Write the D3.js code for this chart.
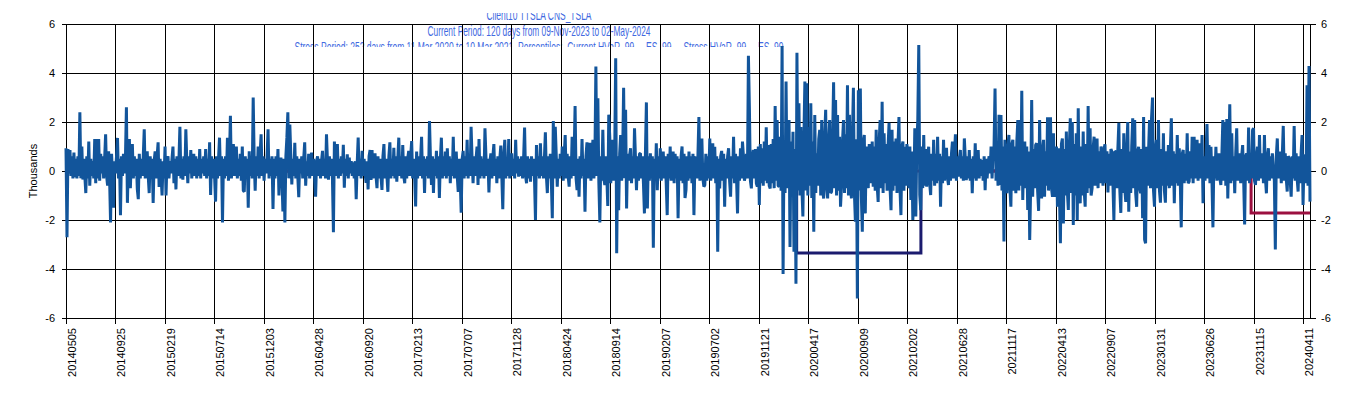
<!DOCTYPE html>
<html><head><meta charset="utf-8">
<script src="https://cdn.jsdelivr.net/npm/d3@7"></script>
<style>body{margin:0;background:#fff}svg{display:block}</style>
</head><body><svg id="c" width="1353" height="398"></svg>
<script>
const titleLines = [
  "Client10 TTSLA CNS_TSLA",
  "Current Period: 120 days from 09-Nov-2023 to 02-May-2024",
  "Stress Period: 252 days from 11 Mar 2020 to 10 Mar 2021. Percentiles:  Current HVaR  99  ,  ES  99  ,  Stress HVaR  99  ,  ES  99"
];
const yAxisTitle = "Thousands";
const tickLabels = ["20140505","20140925","20150219","20150714","20151203","20160428","20160920","20170213","20170707","20171128",
  "20180424","20180914","20190207","20190702","20191121","20200417","20200909","20210202","20210628","20211117",
  "20220413","20220907","20230131","20230626","20231115","20240411"];
const tickStep = 100;          // trading days between labelled ticks
const totalDays = 2514;        // trading days 05-May-2014 .. 02-May-2024
const yTicks = [-6,-4,-2,0,2,4,6];
const stressStart = 1476, stressEnd = 1727, stressHVaR = -3.35;
const currentStart = 2394, currentHVaR = -1.71;
// daily P&L (thousands), one sample every second trading day
const pnl = [
0.93,-2.7,0.9,-0.1,0.85,-0.2,0.6,-0.3,0.75,-0.25,
0.5,-0.3,0.6,-0.2,2.4,-0.3,1.0,-0.35,0.5,-0.2,
-0.9,0.6,-0.3,1.2,-0.6,0.5,-0.2,0.4,-0.3,1.3,
-0.5,1.3,-0.3,1.3,-0.4,0.7,-0.1,0.6,-0.3,0.5,
1.5,-0.2,-0.6,0.8,-0.3,-2.1,0.7,-0.2,-1.5,0.4,
-0.1,0.6,1.35,-0.3,0.5,-1.8,0.6,-0.2,0.7,-0.1,
0.5,2.6,-1.3,0.4,1.3,-0.7,0.6,1.1,-0.3,0.6,
-0.2,0.5,-0.75,-1.15,0.7,-0.3,0.5,-0.2,0.6,1.7,
-0.3,0.4,0.8,-0.2,-0.9,0.6,-0.3,0.5,-1.3,0.4,
0.8,-0.3,0.6,1.17,-0.65,0.5,-0.2,-1.0,0.4,-0.3,
1.0,-1.0,0.5,0.6,-0.3,0.4,-0.1,0.5,1.0,-0.5,
0.5,-0.75,0.6,-0.2,0.4,1.8,-0.3,0.5,-0.35,0.6,
-0.2,1.7,0.4,-0.5,0.6,-0.1,0.85,-0.3,0.5,0.7,
-0.2,0.6,-0.3,0.5,-0.2,0.9,-0.3,0.5,-0.1,0.6,
-0.2,0.9,-0.3,0.5,-0.2,1.17,-0.98,0.6,-0.3,0.5,
-0.2,-1.25,0.6,-0.3,0.5,1.36,-0.2,0.6,-2.1,0.5,
-0.3,0.6,-0.2,1.36,-0.4,0.5,2.25,-0.3,0.6,1.1,
-0.2,0.6,1.0,-0.3,0.5,-0.2,0.7,-0.4,1.0,-0.8,
-0.85,0.6,-0.3,0.5,-1.5,0.8,-0.2,0.6,-0.3,3.0,
0.5,-0.8,0.6,-0.2,1.0,-0.3,0.7,1.5,-0.2,0.6,
-0.4,0.5,-0.1,0.6,1.7,-0.3,0.5,-0.2,0.6,-1.55,
0.5,-0.3,0.6,-0.2,0.9,-1.0,0.4,0.55,-0.3,-1.65,
0.5,-2.1,0.6,1.36,2.4,-0.3,1.9,0.6,-0.55,0.5,
-0.2,1.15,-0.3,0.6,-0.2,-1.07,0.5,-0.1,0.6,-0.3,
0.5,1.17,-0.6,0.4,-0.2,0.7,-0.3,0.5,0.75,-0.2,
0.5,-0.3,-1.05,0.4,0.6,-0.2,0.5,-0.3,0.4,0.82,
-0.2,0.5,-0.3,1.5,0.4,-0.35,0.6,-0.2,0.5,-0.3,
-2.5,1.2,-0.2,0.6,1.1,-0.3,0.5,-0.2,0.6,-0.1,
1.07,-0.68,0.5,-0.2,0.68,-0.3,0.55,-0.1,0.4,-0.2,
0.35,-0.3,0.4,-1.15,0.3,1.37,-0.2,0.5,-0.3,0.82,
-0.2,0.5,-0.1,-0.48,0.4,-0.75,0.6,0.86,-0.37,0.86,
-0.3,0.5,0.72,-0.2,-0.7,0.6,-0.3,0.5,-0.2,-0.77,
0.6,1.1,-0.3,0.5,-0.2,-0.85,0.6,1.17,-0.3,0.5,
-0.2,0.95,-0.3,0.6,-0.44,0.5,1.36,-0.2,0.6,-0.3,
1.06,-0.2,-0.5,0.6,-0.3,0.5,0.82,-0.2,0.6,1.22,
-0.3,0.5,-0.2,-1.45,0.79,-0.3,0.6,-0.2,0.5,1.4,
-0.3,0.6,-0.9,0.5,-0.2,0.6,-0.3,2.04,0.5,-0.57,
0.6,-0.9,0.5,-0.2,0.82,-0.3,0.6,-1.1,0.5,1.36,
-0.3,0.6,-0.2,0.79,-0.3,0.93,-0.2,0.6,-0.5,0.5,
-0.2,1.4,-0.3,0.6,0.79,-0.2,-0.85,0.5,-0.3,-1.7,
0.5,0.82,-0.3,0.6,-0.2,1.27,-0.3,0.5,-0.2,1.8,
0.5,-0.5,0.6,-0.2,0.5,1.0,-0.57,1.3,-0.3,0.6,
-0.2,0.5,-0.3,1.74,0.6,-0.2,0.5,-0.88,0.4,0.72,
-0.3,0.6,1.1,-0.2,0.5,-0.5,0.6,-0.3,0.5,1.04,
-0.2,-1.56,0.6,1.27,-0.3,0.5,-0.2,1.3,-0.3,0.6,
0.72,-0.2,0.5,-0.3,1.27,-0.1,0.6,-0.23,0.5,-0.2,
0.6,-0.3,0.5,1.77,-0.2,-0.5,0.6,-0.3,0.5,-0.44,
0.6,-0.2,0.5,-0.3,-2.0,1.06,-0.2,0.6,-0.3,1.13,
-0.2,0.6,-0.3,0.5,1.58,-0.2,-0.9,0.6,-0.3,0.7,
-0.4,-1.93,2.04,-0.3,1.8,0.6,-0.64,0.5,-0.3,0.7,
-0.2,1.0,-0.4,0.6,1.47,-0.3,0.7,-0.2,-0.64,0.6,
-0.3,1.4,-0.2,0.6,2.65,-0.3,-0.78,0.5,-1.05,0.6,
-0.3,1.3,-0.2,0.5,-1.66,0.6,1.17,-0.3,0.5,1.15,
-0.4,0.6,1.27,-0.3,0.5,4.26,-0.2,2.97,-0.5,-2.1,
0.6,-0.4,1.68,-0.3,-0.57,0.6,-0.2,-1.43,2.3,1.4,
-0.5,0.6,1.27,-0.4,0.7,4.6,-3.36,0.6,-1.6,0.7,
1.47,-0.4,0.6,3.4,-0.3,2.5,-1.53,0.7,-0.4,0.6,
0.93,-0.5,0.6,-0.3,1.74,0.5,-0.78,0.6,-0.4,0.7,
0.72,-0.3,0.6,-0.5,-1.73,0.7,2.8,-1.53,0.6,-0.4,
0.72,-0.3,0.6,-3.13,0.5,-0.4,1.13,-0.78,0.6,-0.3,
0.93,-0.4,0.6,0.79,-0.3,0.6,-0.5,-1.8,0.7,-0.3,
1.0,-0.4,0.6,0.79,-0.5,0.7,-0.3,0.6,-1.93,0.5,
-0.4,0.6,1.0,-0.5,0.7,-1.1,-0.77,0.6,-0.4,0.79,
-0.3,0.6,-0.5,0.7,-1.8,0.5,0.58,-0.3,0.6,2.2,
-0.4,0.6,1.33,-0.3,-0.64,-0.57,0.7,-0.4,0.6,-0.3,
1.33,-0.4,0.6,1.13,-0.3,0.99,-0.5,0.6,-3.3,0.5,
-0.71,0.6,0.82,-0.4,0.7,-1.46,0.5,-0.3,0.6,0.93,
-0.4,-1.05,0.6,-0.3,1.4,-0.5,0.7,-0.3,-1.73,0.6,
-0.4,0.93,-0.3,1.2,0.6,-0.4,-0.16,0.7,-0.3,4.7,
2.56,-0.4,-0.71,0.6,0.86,-0.3,0.9,-0.5,-0.64,1.0,
-1.39,1.1,-0.5,0.93,-0.6,1.2,-0.4,1.78,-0.5,1.06,
-0.6,-0.71,1.1,-0.5,1.3,-0.7,2.65,-0.4,2.08,-0.6,
-0.64,1.4,-0.8,5.1,-4.2,1.2,-0.9,3.65,-0.7,1.5,
2.08,-3.1,1.2,-0.8,1.6,-3.3,0.9,-4.6,4.83,-0.8,
2.76,-1.0,1.8,-0.7,-1.86,1.3,3.65,-0.8,3.58,-1.0,
1.8,-0.6,2.76,-1.1,1.2,-2.48,2.29,-0.9,0.72,-0.6,
1.3,1.68,-1.0,2.08,-0.8,-1.12,1.4,2.5,-0.7,-1.12,
1.2,2.08,-0.9,-0.84,1.3,3.62,-0.7,2.9,-1.0,2.29,
-0.8,1.4,-1.46,-0.6,1.2,2.08,-0.9,1.5,-0.7,3.5,
-1.0,2.29,-0.6,-1.12,1.4,3.4,-0.9,-2.07,1.3,-5.2,
3.3,-0.8,3.37,-1.0,-2.48,1.2,1.47,-1.73,1.0,0.72,
-0.7,1.1,0.86,-0.5,1.2,-0.64,1.0,-0.8,1.68,-0.6,
-1.26,1.2,2.08,-0.7,2.83,-0.9,1.54,-0.5,1.1,-0.8,
1.0,1.97,-0.7,-1.6,1.68,-0.8,1.2,-0.6,1.33,-0.9,
1.1,2.2,-0.7,-1.8,1.0,1.2,-0.8,0.99,-0.6,1.1,
0.72,-0.7,1.0,-1.18,0.8,-2.0,-0.9,1.74,-1.86,1.0,
2.08,5.14,-0.98,-1.6,1.0,-0.7,1.47,-0.6,0.9,-0.64,
0.6,0.99,-0.5,-0.98,0.7,-0.4,1.27,-0.6,0.7,-0.5,
1.4,-0.4,0.7,-1.46,0.6,-0.5,1.27,-0.4,0.6,0.95,
-0.3,-0.57,0.6,-0.4,0.7,1.2,-0.3,0.6,1.5,-0.4,
0.6,-0.23,0.5,0.86,-0.3,0.6,-0.4,1.33,0.5,-0.37,
0.6,-0.3,0.86,-0.4,0.5,-0.91,0.6,-0.3,1.13,-0.4,
0.6,0.86,-0.3,0.5,-0.2,0.45,-0.4,0.6,-0.78,0.5,
-0.3,0.31,0.6,-0.1,1.0,-0.3,0.7,1.0,3.37,-0.4,
1.2,-0.6,2.29,-0.57,2.29,-0.8,1.0,-2.88,1.27,-0.6,
-0.91,1.0,1.47,-0.7,-1.46,1.1,1.27,-0.8,1.0,-0.91,
1.2,2.08,-0.8,2.08,-0.6,3.27,-1.18,0.9,1.2,-0.7,
1.0,-1.59,0.8,-2.82,-0.6,2.9,-1.05,0.9,-0.7,1.06,
1.13,-0.8,-1.63,2.08,-0.7,-1.12,0.9,1.27,-1.05,0.8,
-0.6,2.19,-0.8,1.1,2.19,-0.7,-1.05,1.54,-0.8,-1.05,
1.0,-1.46,0.93,-0.9,-2.95,1.1,1.33,-2.14,0.9,-1.0,
1.61,-0.8,-1.59,1.0,2.15,-0.9,2.0,-2.2,1.1,-1.0,
1.54,-2.0,2.56,-0.9,-1.32,1.0,-1.0,1.61,-0.8,-1.46,
1.1,-0.9,2.65,-0.7,1.74,-1.0,-0.71,0.9,1.4,-0.6,
0.9,1.33,-0.7,0.8,-0.5,1.0,0.72,-0.6,0.9,1.09,
-0.5,0.8,-0.88,0.7,-0.6,0.9,0.79,-0.5,-2.0,0.8,
0.79,-0.7,0.9,1.97,-0.8,-1.71,0.9,-0.9,1.54,-0.7,
-1.26,0.9,2.0,-1.66,0.8,-0.9,1.0,2.15,-0.7,2.08,
-0.9,-1.46,0.8,0.99,-0.7,-0.91,0.9,-1.93,2.2,-2.8,
-2.95,0.99,-0.6,0.8,2.08,-0.7,2.15,3.0,-0.8,-1.46,
0.9,1.27,-0.7,2.08,-0.8,-1.29,0.9,-0.6,1.54,-0.8,
-1.29,0.8,-0.6,1.06,-0.7,0.9,2.15,-0.6,0.8,-1.32,
0.7,-0.5,1.47,-0.6,0.93,-0.4,-2.3,0.7,0.86,-0.5,
0.7,-0.4,1.54,-0.5,-0.44,0.8,-0.3,1.4,-0.5,1.4,
-0.3,0.8,1.27,-0.4,0.7,1.13,-0.3,1.47,-1.32,0.6,
-0.4,0.7,1.92,-0.3,1.06,-0.5,0.99,-0.4,-2.3,0.6,
-0.3,0.99,-0.4,0.6,0.72,-0.3,-0.57,0.6,2.08,-0.4,
2.0,-0.6,2.12,-1.12,0.7,2.72,-0.5,1.54,-0.4,0.6,
-0.91,0.7,1.74,-0.4,0.6,0.72,-0.5,0.6,1.06,-0.3,
-2.18,0.6,0.72,-0.4,1.77,-0.5,0.6,-0.3,1.67,1.74,
-0.4,-0.57,0.6,0.99,-0.4,1.47,-0.3,0.6,0.72,-0.5,
1.47,-0.3,-0.91,0.6,0.93,-0.4,0.6,-0.3,0.72,0.18,
-0.4,-3.2,0.6,1.33,-0.3,0.6,0.79,-0.5,0.6,1.84,
-0.4,0.72,-0.3,-0.84,0.6,0.52,-0.4,-1.05,0.6,-0.3,
1.84,-0.4,0.72,-0.3,-0.84,0.6,-0.5,0.7,1.47,-1.39,
0.6,0.65,-0.5,3.5,-0.6,4.29,-1.25
];

const W = 1353, H = 398;
const svg = d3.select("#c");
const x = d3.scaleLinear().domain([0, totalDays - 1]).range([66, 1310]);
const y = d3.scaleLinear().domain([-6, 6]).range([318, 24]);
const sampleDay = d3.scaleLinear().domain([0, pnl.length - 1]).range([0, totalDays - 1]);
const px = v => Math.floor(x(v)) + 0.5;
const py = v => Math.round(y(v)) + 0.5;
const font = "Arial, 'Liberation Sans', sans-serif";

// title (behind the plot, clipped like the original)
svg.append("clipPath").attr("id", "tclip").append("rect")
  .attr("x", 0).attr("y", 13).attr("width", W).attr("height", 34);
const tg = svg.append("g").attr("clip-path", "url(#tclip)");
const titleW = [105, 223, 489];
tg.selectAll("text").data(titleLines).join("text")
  .attr("x", 539).attr("y", (d, i) => 19.5 + i * 16)
  .attr("text-anchor", "middle")
  .attr("textLength", (d, i) => titleW[i]).attr("lengthAdjust", "spacingAndGlyphs")
  .style("white-space", "pre")
  .attr("font-family", "'Liberation Sans Narrow', Arial, sans-serif")
  .attr("font-size", 14.5).attr("fill", "#4169E1")
  .text(d => d);

// grid
const xTicks = tickLabels.map((d, i) => i * tickStep);
const grid = svg.append("g").attr("stroke", "#000").attr("stroke-width", 1).attr("shape-rendering", "crispEdges");
grid.selectAll(".h").data(yTicks).join("line")
  .attr("x1", px(0)).attr("x2", px(totalDays - 1)).attr("y1", d => py(d)).attr("y2", d => py(d));
grid.selectAll(".v").data(xTicks.concat([totalDays - 1])).join("line")
  .attr("x1", d => px(d)).attr("x2", d => px(d)).attr("y1", py(6)).attr("y2", py(-6));

// axes ticks
const ax = svg.append("g").attr("stroke", "#000").attr("shape-rendering", "crispEdges");
ax.selectAll(".lt").data(yTicks).join("line")
  .attr("x1", px(0) - 5).attr("x2", px(0)).attr("y1", d => py(d)).attr("y2", d => py(d));
ax.selectAll(".rt").data(yTicks).join("line")
  .attr("x1", px(totalDays - 1)).attr("x2", px(totalDays - 1) + 5).attr("y1", d => py(d)).attr("y2", d => py(d));
ax.selectAll(".bt").data(xTicks).join("line")
  .attr("x1", d => px(d)).attr("x2", d => px(d)).attr("y1", py(-6)).attr("y2", py(-6) + 5);

const lab = svg.append("g").attr("font-family", font).attr("font-size", 11).attr("fill", "#000");
lab.selectAll(".ly").data(yTicks).join("text")
  .attr("x", 55).attr("y", d => y(d) + 4).attr("text-anchor", "end").text(d => d);
lab.selectAll(".ry").data(yTicks).join("text")
  .attr("x", 1321).attr("y", d => y(d) + 4).attr("text-anchor", "start").text(d => d);
lab.selectAll(".bx").data(xTicks).join("text")
  .attr("transform", d => `translate(${px(d) + 9.5},328) rotate(-90)`)
  .attr("text-anchor", "end").text((d, i) => tickLabels[i]);
lab.append("text").attr("transform", `translate(37,${y(0)}) rotate(-90)`)
  .attr("text-anchor", "middle").text(yAxisTitle);

// HVaR step lines
const stressPts = [[0, 0], [stressStart, 0], [stressStart, stressHVaR], [stressEnd, stressHVaR], [stressEnd, 0], [totalDays - 1, 0]];
const currentPts = [[0, 0], [currentStart, 0], [currentStart, currentHVaR], [totalDays - 1, currentHVaR]];
const stepLine = d3.line().x(d => x(d[0])).y(d => y(d[1]));
svg.append("path").attr("d", stepLine(stressPts)).attr("fill", "none")
  .attr("stroke", "#1B1B6E").attr("stroke-width", 3);
svg.append("path").attr("d", stepLine(currentPts)).attr("fill", "none")
  .attr("stroke", "#9C1040").attr("stroke-width", 3);

// P&L series
const line = d3.line().x((d, i) => x(sampleDay(i))).y(d => y(d));
svg.append("path").attr("d", line(pnl)).attr("fill", "none")
  .attr("stroke", "#12559B").attr("stroke-width", 3).attr("stroke-linejoin", "bevel");
</script></body></html>
